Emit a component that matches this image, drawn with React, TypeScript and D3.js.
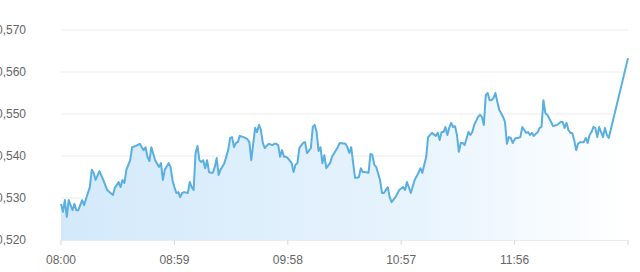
import React from "react";
import * as d3 from "d3";

const minutes = [
  0, 1, 2, 3, 4, 5, 6, 7, 8, 9, 10, 11, 12, 14, 15, 16, 17, 18, 20, 22, 24, 27, 28, 30, 31, 32, 33, 34, 36, 37,
  39, 41, 42, 43, 44, 45, 46, 47, 49, 51, 52, 53, 54, 56, 57, 58, 59, 60, 61, 62, 63, 64, 66, 67, 68, 69, 70, 71,
  72, 73, 74, 75, 76, 77, 78, 79, 80, 81, 82, 83, 85, 87, 88, 89, 90, 91, 92, 93, 95, 97, 98, 99, 101, 102, 103,
  104, 105, 106, 108, 110, 111, 112, 113, 114, 115, 116, 117, 118, 120, 121, 122, 123, 124, 126, 127, 128, 130,
  131, 132, 133, 134, 135, 136, 137, 138, 140, 141, 144, 145, 148, 149, 150, 151, 152, 153, 154, 155, 156, 157,
  158, 160, 161, 162, 163, 164, 166, 167, 168, 170, 171, 172, 174, 176, 178, 179, 180, 182, 184, 186, 187, 188,
  190, 191, 193, 195, 196, 197, 198, 199, 200, 201, 202, 203, 204, 205, 206, 207, 208, 209, 210, 212, 213, 214,
  215, 217, 218, 219, 220, 221, 222, 223, 224, 225, 226, 227, 228, 230, 231, 232, 233, 234, 235, 236, 237, 238,
  239, 240, 241, 242, 243, 244, 245, 246, 248, 249, 250, 251, 252, 253, 255, 256, 258, 260, 261, 262, 263, 264,
  265, 266, 267, 268, 269, 270, 272, 273, 274, 275, 276, 277, 278, 279, 280, 281, 282, 283, 284, 285, 295,
];

const prices = [
  0.5286, 0.5267, 0.5295, 0.5255, 0.5295, 0.5283, 0.5271, 0.5286, 0.5271, 0.5271, 0.5283, 0.5295, 0.5283, 0.5312,
  0.5326, 0.5367, 0.536, 0.5343, 0.5364, 0.5343, 0.5319, 0.5307, 0.5324, 0.5338, 0.5326, 0.5343, 0.5336, 0.5367,
  0.539, 0.5421, 0.5424, 0.5429, 0.5421, 0.5414, 0.5421, 0.5398, 0.5388, 0.5421, 0.539, 0.5374, 0.5383, 0.5343,
  0.5367, 0.5383, 0.5374, 0.5343, 0.5326, 0.5312, 0.5314, 0.5302, 0.5312, 0.5314, 0.5312, 0.5338, 0.5326, 0.5319,
  0.5407, 0.5424, 0.539, 0.5386, 0.539, 0.5371, 0.539, 0.5362, 0.536, 0.536, 0.5374, 0.5395, 0.5355, 0.5367,
  0.5383, 0.5414, 0.5443, 0.5445, 0.5421, 0.5431, 0.5433, 0.5448, 0.5445, 0.544, 0.5433, 0.539, 0.5467, 0.5457,
  0.5474, 0.5462, 0.5431, 0.5419, 0.5429, 0.5426, 0.5429, 0.5429, 0.5426, 0.5398, 0.5414, 0.5398, 0.5398, 0.5395,
  0.5383, 0.5362, 0.5379, 0.5383, 0.5419, 0.5431, 0.5433, 0.5407, 0.5419, 0.5469, 0.5474, 0.5457, 0.5412, 0.5421,
  0.5383, 0.5402, 0.5371, 0.5383, 0.5398, 0.5421, 0.5431, 0.5429, 0.5421, 0.5407, 0.5421, 0.5383, 0.5348, 0.5348,
  0.535, 0.5371, 0.5362, 0.5362, 0.536, 0.5405, 0.5402, 0.5379, 0.5374, 0.5343, 0.5312, 0.5312, 0.5326, 0.5302,
  0.529, 0.5302, 0.5319, 0.5326, 0.5319, 0.5338, 0.5312, 0.5343, 0.536, 0.5371, 0.536, 0.5398, 0.5445, 0.5455,
  0.5448, 0.5455, 0.5438, 0.5457, 0.5457, 0.5469, 0.545, 0.5467, 0.5479, 0.5469, 0.5471, 0.545, 0.541, 0.5431,
  0.5431, 0.5426, 0.5457, 0.545, 0.5457, 0.5474, 0.5493, 0.5498, 0.5493, 0.5474, 0.5545, 0.555, 0.5533, 0.5533,
  0.5538, 0.555, 0.5529, 0.551, 0.5493, 0.5481, 0.5429, 0.5445, 0.5443, 0.5431, 0.544, 0.5443, 0.5443, 0.5445,
  0.5469, 0.5462, 0.5455, 0.5457, 0.545, 0.5455, 0.5448, 0.5457, 0.5467, 0.5469, 0.5533, 0.5502, 0.5498, 0.5481,
  0.5471, 0.5474, 0.5481, 0.5481, 0.5467, 0.5479, 0.5462, 0.5455, 0.5455, 0.5438, 0.5414, 0.5429, 0.5433, 0.5433,
  0.5443, 0.5431, 0.545, 0.5457, 0.5469, 0.5467, 0.5445, 0.5469, 0.5457, 0.5445, 0.5467, 0.545, 0.5443, 0.5633,
];

const yTicks = [0.52, 0.53, 0.54, 0.55, 0.56, 0.57];
const xTickMinutes = [0, 59, 118, 177, 236, 295];
const xTickLabels = ["08:00", "08:59", "09:58", "10:57", "11:56", ""];

const W = 640;
const H = 272;
const left = 61;
const right = 628;
const top = 30;
const bottom = 240;

export default function App() {
  const x = d3.scaleLinear().domain([0, 295]).range([left, right]);
  const y = d3.scaleLinear().domain([0.52, 0.57]).range([bottom, top]);
  const pts = minutes.map((m, i) => [m, prices[i]] as [number, number]);
  const line = d3
    .line<[number, number]>()
    .x((d) => x(d[0]))
    .y((d) => y(d[1]));
  const area = d3
    .area<[number, number]>()
    .x((d) => x(d[0]))
    .y0(y(0.52))
    .y1((d) => y(d[1]));
  const fmt = (v: number) => v.toFixed(3).replace(".", ",");
  const font = "'Liberation Sans', Arial, sans-serif";
  return (
    <svg
      width={W}
      height={H}
      style={{ position: "absolute", left: 0, top: 0, background: "#fff" }}
    >
      <defs>
        <linearGradient id="areaGrad" x1="0" y1="0" x2="1" y2="0">
          <stop offset="0%" stopColor="#d3e9fa" />
          <stop offset="60%" stopColor="#e6f3fd" />
          <stop offset="100%" stopColor="#ffffff" />
        </linearGradient>
      </defs>
      {yTicks.map((t) => (
        <g key={t}>
          <line x1={left} x2={right} y1={y(t)} y2={y(t)} stroke={t === 0.52 ? "#d9d9d9" : "#ebebeb"} strokeWidth={1} />
          <text
            x={26}
            y={y(t)}
            dy="0.35em"
            textAnchor="end"
            fontSize={12}
            fill="#666"
            fontFamily={font}
          >
            {fmt(t)}
          </text>
        </g>
      ))}
      <path d={area(pts) || ""} fill="url(#areaGrad)" />
      <path d={line(pts) || ""} fill="none" stroke="#5aafe1" strokeWidth={2} strokeLinejoin="round" />
      {xTickMinutes.map((m, i) => (
        <g key={m}>
          <line x1={x(m)} x2={x(m)} y1={bottom} y2={bottom + 5} stroke="#d9d9d9" />
          <text
            x={x(m)}
            y={bottom + 24}
            textAnchor="middle"
            fontSize={12}
            fill="#666"
            fontFamily={font}
          >
            {xTickLabels[i]}
          </text>
        </g>
      ))}
    </svg>
  );
}
